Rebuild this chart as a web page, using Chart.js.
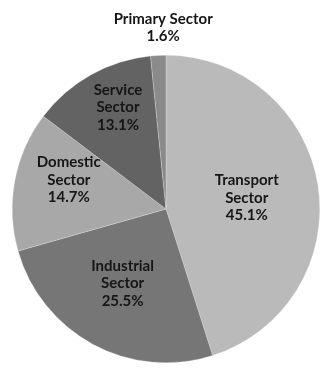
<!DOCTYPE html>
<html>
<head>
<meta charset="utf-8">
<script src="https://cdn.jsdelivr.net/npm/chart.js@4/dist/chart.umd.min.js"></script>
<style>
  html, body { margin: 0; padding: 0; background: #fff; }
  #wrap { width: 320px; height: 368px; position: relative; }
</style>
</head>
<body>
<div id="wrap"><canvas id="myChart"></canvas></div>
<script>
// energy use by sector, share of total (%)
var sectors = ['Transport Sector', 'Industrial Sector', 'Domestic Sector', 'Service Sector', 'Primary Sector'];
var shares = [45.1, 25.5, 14.7, 13.1, 1.6];
var greys = ['#bababa', '#767676', '#a8a8a8', '#636363', '#8a8a8a'];

// where each label sits: fraction of radius (>1 = outside) and a small turn in degrees
var labelRadius = [0.53, 0.56, 0.66, 0.73, 1.18];
var labelTurn = [1, 2, 6, 4, 2];

var sliceLabels = {
  id: 'sliceLabels',
  afterDatasetsDraw: function(chart) {
    var ctx = chart.ctx;
    var meta = chart.getDatasetMeta(0);
    ctx.save();
    ctx.font = 'bold 15px Lato, "Open Sans", sans-serif';
    ctx.fillStyle = '#161616';
    ctx.textAlign = 'center';
    ctx.textBaseline = 'middle';
    meta.data.forEach(function(arc, i) {
      var p = arc.getProps(['x', 'y', 'startAngle', 'endAngle', 'outerRadius']);
      var mid = (p.startAngle + p.endAngle) / 2 + labelTurn[i] * Math.PI / 180;
      var r = p.outerRadius * labelRadius[i];
      var cx = p.x + Math.cos(mid) * r;
      var cy = p.y + Math.sin(mid) * r;
      var lines;
      if (i === 4) {
        lines = [sectors[i], shares[i].toFixed(1) + '%'];
      } else {
        lines = sectors[i].split(' ').concat([shares[i].toFixed(1) + '%']);
      }
      var lh = 17.5;
      var top = cy - (lines.length - 1) * lh / 2;
      lines.forEach(function(t, k) {
        ctx.fillText(t, cx, top + k * lh);
      });
    });
    ctx.restore();
  }
};

var canvas = document.getElementById('myChart');
var myChart = new Chart(canvas.getContext('2d'), {
  type: 'pie',
  data: {
    labels: sectors,
    datasets: [{
      data: shares,
      backgroundColor: greys,
      borderColor: 'rgba(235,235,235,0.6)',
      borderWidth: 0.5
    }]
  },
  options: {
    responsive: true,
    maintainAspectRatio: false,
    animation: false,
    layout: { padding: { left: 12, right: 0, top: 54, bottom: 4 } },
    plugins: {
      legend: { display: false },
      tooltip: { enabled: false }
    }
  },
  plugins: [sliceLabels]
});
</script>
</body>
</html>
